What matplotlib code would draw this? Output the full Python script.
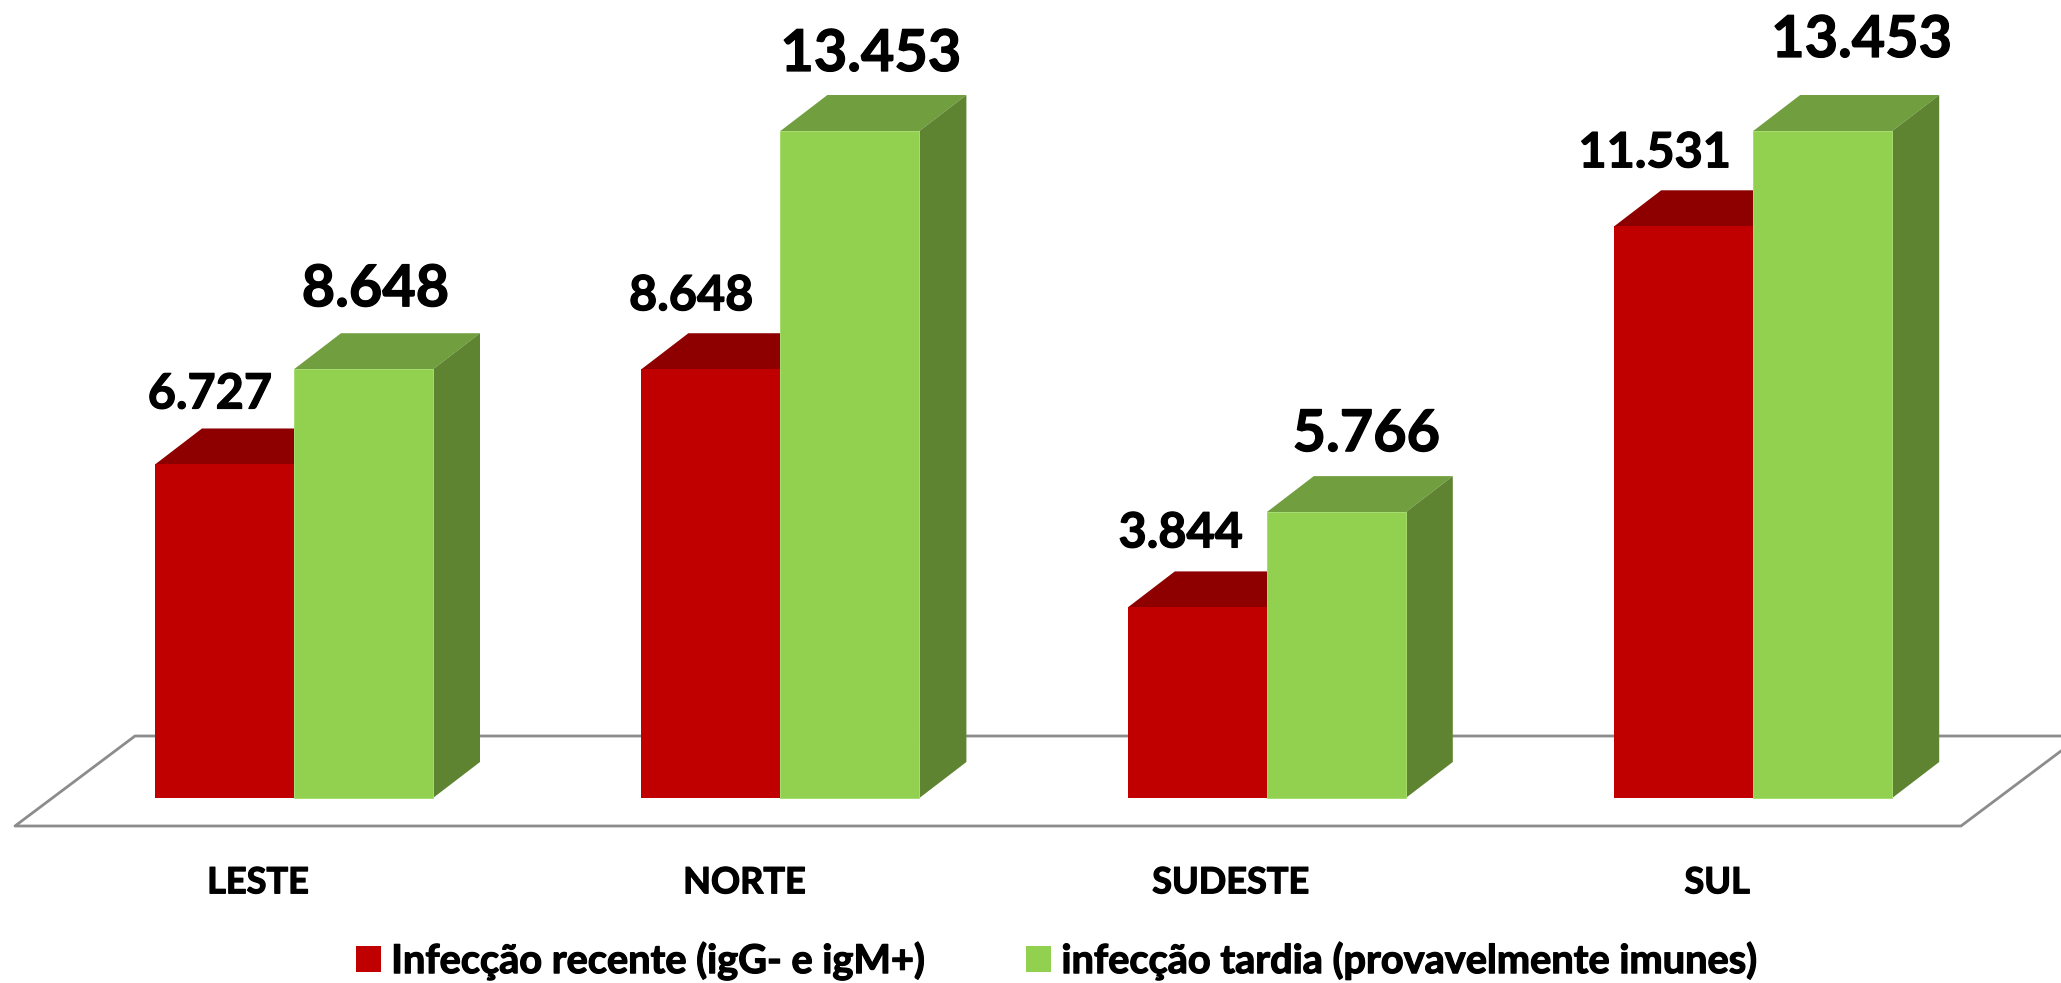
# -*- coding: utf-8 -*-
import numpy as np
import matplotlib
matplotlib.use('Agg')
import matplotlib.pyplot as plt
import matplotlib.patheffects as pe
from matplotlib.patches import Patch

plt.rcParams['font.family'] = ['Lato', 'DejaVu Sans']
plt.rcParams['font.weight'] = 'bold'

# dados
regioes = ['LESTE', 'NORTE', 'SUDESTE', 'SUL']
recente = [6727, 8648, 3844, 11531]
tardia = [8648, 13453, 5766, 13453]
rot_recente = ['6.727', '8.648', '3.844', '11.531']
rot_tardia = ['8.648', '13.453', '5.766', '13.453']
nome_recente = 'Infecção recente (igG- e igM+)'
nome_tardia = 'infecção tardia (provavelmente imunes)'

# layout em pixels da figura
W, H = 2061, 983
base_px = 798
piso_px = 826
passo = 486.4
centro0 = 294
px_val = 667 / 13453
larg = 139 / passo
dx = 47 / passo
dy = 36 / px_val

# deslocamento dos rotulos em relacao ao topo da barra (px)
off_rec = [(117, 56), (112, 59), (115, 60), (117, 59)]
off_tar = [(12, 63), (21, 60), (30, 61), (39, 74)]

# texto mais pesado, perto da Calibri negrito
grosso = [pe.withStroke(linewidth=0.9, foreground='black')]

fig = plt.figure(figsize=(W / 100, H / 100), dpi=100)
ax = fig.add_axes([0, (H - piso_px) / H, 1, piso_px / H])
ax.set_xlim(-centro0 / passo, (W - centro0) / passo)
ax.set_ylim(-(piso_px - base_px) / px_val, base_px / px_val)
for s in ax.spines.values():
    s.set_visible(False)
ax.set_yticks([])

# piso
y0 = -(piso_px - base_px) / px_val
y1 = y0 + 90 / px_val
xa = ax.get_xlim()[0] + 15 / passo
xb = ax.get_xlim()[0] + 1961 / passo
ax.plot([xb + 120 / passo, xa + 120 / passo, xa, xb, xb + 120 / passo],
        [y1, y1, y0, y0, y1], color='#8C8C8C', lw=2, zorder=1, clip_on=False)

x = np.arange(len(regioes))
COR_R, COR_R_TOP = '#C00000', '#8E0000'
COR_G, COR_G_TOP, COR_G_LAT = '#92D050', '#719E3F', '#5E8431'

for i in x:
    # vermelho
    xl = i - larg
    v = recente[i]
    ax.fill([xl, xl + dx, i + dx, i], [v, v + dy, v + dy, v], color=COR_R_TOP, lw=0, zorder=2)
    ax.bar(xl, v, width=larg, align='edge', color=COR_R, lw=0, zorder=3)
    # verde
    v = tardia[i]
    ax.fill([i, i + dx, i + larg + dx, i + larg], [v, v + dy, v + dy, v], color=COR_G_TOP, lw=0, zorder=4)
    ax.fill([i + larg, i + larg + dx, i + larg + dx, i + larg], [0, dy, v + dy, v], color=COR_G_LAT, lw=0, zorder=4)
    ax.bar(i, v, width=larg, align='edge', color=COR_G, edgecolor='#A6DC70', lw=0.7, zorder=5)

    ax.annotate(rot_recente[i], (xl, recente[i]), xytext=(off_rec[i][0] * 0.72, off_rec[i][1] * 0.72),
                textcoords='offset points', ha='right', va='baseline', fontsize=35, color='black', zorder=6,
                path_effects=grosso)
    ax.annotate(rot_tardia[i], (i + larg / 2, tardia[i]), xytext=(off_tar[i][0] * 0.72, off_tar[i][1] * 0.72),
                textcoords='offset points', ha='center', va='baseline', fontsize=41.5, color='black', zorder=6,
                path_effects=grosso)

ax.set_xticks(x - 36 / passo)
ax.set_xticklabels(regioes, fontsize=26, path_effects=grosso)
ax.tick_params(axis='x', length=0, pad=29)

leg = fig.legend(handles=[Patch(color=COR_R, lw=0, label=nome_recente), Patch(color=COR_G, lw=0, label=nome_tardia)],
                 loc='center', bbox_to_anchor=(0.5125, (H - 961) / H), ncol=2, frameon=False, fontsize=28.6,
                 handlelength=0.63, handleheight=0.63, handletextpad=0.26, columnspacing=2.55, borderpad=0)
for t in leg.get_texts():
    t.set_path_effects(grosso)

fig.savefig('out.png', dpi=100, facecolor='white')
